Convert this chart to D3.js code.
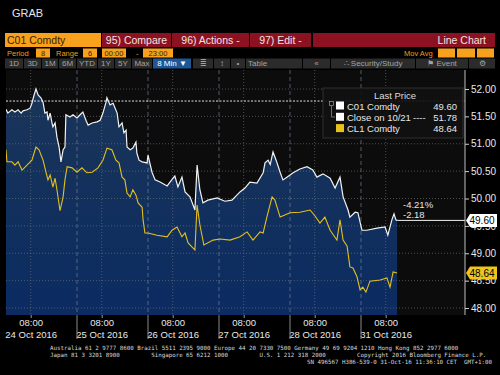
<!DOCTYPE html>
<html>
<head>
<meta charset="utf-8">
<script src="https://cdn.jsdelivr.net/npm/d3@7"></script>
<style>
  body { margin: 0; background: #000; }
  svg { display: block; font-family: "Liberation Sans", Arial, sans-serif; }
</style>
</head>
<body>
<div id="viz"></div>
<script>
// sessions shown on the x axis (each session 00:00 - 23:00)
var days = ["24 Oct 2016", "25 Oct 2016", "26 Oct 2016", "27 Oct 2016", "28 Oct 2016", "31 Oct 2016"];
var yTicks = [48, 48.5, 49, 49.5, 50, 50.5, 51, 51.5, 52];

// [session hour from 24 Oct 00:00, price]
var brent = [[0,51.63],[0.6,51.56],[1.9,51.62],[2.9,51.58],[3.9,51.62],[4.9,51.56],[5.5,51.60],[6.8,51.62],[7.8,51.65],[8.4,51.74],
  [9.1,51.89],[9.7,52.00],[10.4,51.89],[11.3,51.84],[12,51.76],[12.6,51.56],[13.3,51.58],[13.6,51.43],[14.3,51.56],[14.9,51.38],
  [15.2,51.31],[15.9,51.38],[16.5,51.12],[17.2,50.94],[17.8,50.67],[18.5,50.89],[19.1,50.94],[19.4,51.53],[20.7,51.49],[21.7,51.53],
  [23,51.47],[24,51.53],[24.9,51.58],[25.9,51.43],[26.6,51.34],[27.9,51.38],[29.5,51.40],[30.5,51.43],[31.4,51.56],[32.4,51.76],
  [32.7,51.84],[33.7,51.71],[34.7,51.74],[36,51.56],[36.6,51.31],[37.6,51.38],[38.2,51.20],[38.9,51.25],[39.2,50.94],[40.2,50.89],
  [41.1,50.92],[42.1,51.03],[42.4,50.83],[43.1,50.70],[44.1,50.67],[45.7,50.65],[46,50.79],[47.3,50.48],[48.3,50.34],[49.9,50.30],
  [52.2,50.23],[54.1,50.37],[54.7,50.41],[55.7,50.21],[57,50.39],[58,50.12],[59.6,50.03],[61.2,49.79],[61.9,50.61],[62.8,50.16],
  [63.8,49.92],[65.4,49.97],[68.4,50.01],[70.9,49.95],[73.2,49.97],[75.8,50.12],[77.4,50.19],[79,50.30],[81.3,50.28],[83.3,50.47],
  [83.9,50.65],[84.9,50.70],[85.6,50.62],[86.5,50.85],[87.5,50.70],[88.8,50.48],[89.7,50.34],[91,50.39],[93,50.47],[95.2,50.54],
  [97.5,50.58],[99.4,50.52],[100.7,50.39],[102.7,50.45],[105,50.37],[106.6,50.19],[108.2,50.39],[109.2,50.03],[110.8,49.79],[111.4,49.66],
  [113.1,49.75],[114,49.74],[115.3,49.42],[116.9,49.42],[120.2,49.46],[122.8,49.48],[123.7,49.33],[125,49.61],[125.7,49.72],[126.3,49.61],
  [126.7,49.60]];

var wti = [[0,50.89],[0.3,50.67],[1.9,50.67],[2.9,50.61],[3.9,50.67],[5.2,50.52],[6.8,50.61],[8.4,50.70],[9.7,50.94],[10.7,50.89],
  [12,50.70],[13,50.47],[13.6,50.34],[14.3,50.43],[15.2,50.21],[15.9,50.37],[16.5,50.16],[17.5,49.78],[18.5,50.03],[19.1,50.34],
  [19.8,50.58],[21.4,50.56],[23,50.48],[24.6,50.56],[26.2,50.47],[27.9,50.48],[29.8,50.56],[31.4,50.70],[32.7,50.92],[34.3,50.89],
  [35.6,50.70],[36.6,50.65],[37.6,50.39],[38.5,50.34],[39.2,50.10],[40.2,50.03],[41.1,50.16],[42.1,50.06],[42.8,49.92],[44.1,49.84],
  [44.4,49.61],[45,49.37],[46,49.37],[48.9,49.33],[52.2,49.30],[53.8,49.42],[55.4,49.48],[57,49.30],[58,49.37],[59,49.19],
  [60.3,49.11],[61.2,49.06],[61.9,49.88],[62.8,49.52],[64.1,49.15],[67.1,49.24],[69.3,49.26],[72.6,49.24],[75.8,49.30],[78.1,49.39],
  [80,49.24],[82.3,49.39],[83.3,49.37],[84.5,49.66],[86.2,50.03],[87.1,49.97],[88.8,49.66],[92,49.74],[95.2,49.75],[98.5,49.79],
  [100.1,49.68],[101.7,49.55],[103.3,49.66],[105,49.42],[107.2,49.24],[108.2,49.61],[109.2,49.24],[110.5,49.13],[111.4,48.75],[112.4,48.73],
  [113.7,48.57],[114.7,48.33],[115.6,48.38],[116.6,48.29],[117.9,48.49],[121.2,48.51],[123.4,48.55],[124.4,48.38],[125.4,48.66],[126.7,48.64]];

var prevClose = 51.78;
var lastBrent = 49.60, lastWti = 48.64;
var chgPct = "-4.21%", chgAbs = "-2.18";
var legendRows = [
  {name: "C01 Comdty", value: "49.60", color: "#ffffff"},
  {name: "Close on 10/21", value: "51.78", color: "#ffffff"},
  {name: "CL1 Comdty", value: "48.64", color: "#e8c21c"}
];
var footer = [
  "Australia 61 2 9777 8600 Brazil 5511 2395 9000 Europe 44 20 7330 7500 Germany 49 69 9204 1210 Hong Kong 852 2977 6000",
  "Japan 81 3 3201 8900         Singapore 65 6212 1000         U.S. 1 212 318 2000         Copyright 2016 Bloomberg Finance L.P.",
  "SN 496567 H386-539-0 31-Oct-16 11:36:10 CET  GMT+1:00"
];

var width = 500, height = 375,
    plot = {left: 6, right: 465, top: 70, bottom: 315},
    sessionHrs = 23, dayPx = 71;

var svg = d3.select('#viz').append('svg')
  .attr('width', width)
  .attr('height', height);

svg.append('rect').attr('width', width).attr('height', height).attr('fill', '#000');

var x = d3.scaleLinear().domain([0, (plot.right - plot.left) / dayPx * sessionHrs]).range([plot.left, plot.right]);
var y = d3.scaleLinear().domain([48, 52]).range([308, 89]);

// ---- header ----
svg.append('text').attr('x', 12).attr('y', 17).attr('fill', '#e6e6e6')
  .style('font-size', '11px').text('GRAB');

var row1 = [
  {x0: 5, x1: 101, label: 'C01 Comdty', fill: '#f7a11c', color: '#3a1e00', anchor: 'start'},
  {x0: 102, x1: 171, label: '95) Compare', fill: '#8c1222', color: '#f2e2e2', anchor: 'middle'},
  {x0: 172, x1: 249, label: '96) Actions -', fill: '#8c1222', color: '#f2e2e2', anchor: 'middle'},
  {x0: 250, x1: 311, label: '97) Edit  -', fill: '#8c1222', color: '#f2e2e2', anchor: 'middle'},
  {x0: 313, x1: 495, label: 'Line Chart', fill: '#8c1222', color: '#f2e2e2', anchor: 'end'}
];
var r1 = svg.selectAll('.r1').data(row1).enter().append('g').attr('class', 'r1');
r1.append('rect').attr('x', d => d.x0).attr('y', 33).attr('width', d => d.x1 - d.x0).attr('height', 14).attr('fill', d => d.fill);
r1.append('text')
  .attr('x', d => d.anchor == 'start' ? d.x0 + 2 : d.anchor == 'end' ? d.x1 - 9 : (d.x0 + d.x1) / 2)
  .attr('y', 44).attr('text-anchor', d => d.anchor).attr('fill', d => d.color)
  .style('font-size', '10.5px').text(d => d.label);

// period / range row
var orange = '#f29b1e';
var row2Labels = [{x: 7, t: 'Period'}, {x: 56, t: 'Range'}, {x: 136, t: '-'}, {x: 404, t: 'Mov Avg'}];
svg.selectAll('.r2l').data(row2Labels).enter().append('text')
  .attr('x', d => d.x).attr('y', 55.5).attr('fill', orange).style('font-size', '7.5px').text(d => d.t);
var row2Boxes = [{x0: 36, x1: 50, t: '8'}, {x0: 83, x1: 97, t: '6'}, {x0: 102, x1: 126, t: '00:00'},
  {x0: 143, x1: 173, t: '23:00'}, {x0: 438, x1: 455, t: ''}, {x0: 457, x1: 475, t: ''}, {x0: 477, x1: 494, t: ''}];
var r2 = svg.selectAll('.r2').data(row2Boxes).enter().append('g');
r2.append('rect').attr('x', d => d.x0).attr('y', 48.5).attr('width', d => d.x1 - d.x0).attr('height', 9).attr('fill', '#f7a11c');
r2.append('text').attr('x', d => (d.x0 + d.x1) / 2).attr('y', 55.8).attr('text-anchor', 'middle')
  .attr('fill', '#3a1e00').style('font-size', '7.5px').text(d => d.t);

// toolbar row
var row3 = [
  {x0: 5, x1: 23, t: '1D'}, {x0: 24, x1: 41, t: '3D'}, {x0: 42, x1: 58, t: '1M'}, {x0: 59, x1: 76, t: '6M'},
  {x0: 77, x1: 97, t: 'YTD'}, {x0: 98, x1: 114, t: '1Y'}, {x0: 115, x1: 131, t: '5Y'}, {x0: 132, x1: 152, t: 'Max'},
  {x0: 153, x1: 191, t: '8 Min \u25BC', blue: true}, {x0: 193, x1: 213, t: '\u2263', icon: true},
  {x0: 214, x1: 230, t: '\u2195'}, {x0: 231, x1: 245, t: '\u2022'}, {x0: 246, x1: 302, t: 'Table', left: true},
  {x0: 303, x1: 330, t: '\u00AB'}, {x0: 331, x1: 415, t: '\u2234 Security/Study'}, {x0: 416, x1: 468, t: '\u2691 Event'},
  {x0: 469, x1: 495, t: '\u2699'}
];
var r3 = svg.selectAll('.r3').data(row3).enter().append('g');
r3.append('rect').attr('x', d => d.x0).attr('y', 58.5).attr('width', d => d.x1 - d.x0).attr('height', 10)
  .attr('fill', d => d.blue ? '#1f5795' : '#2b2b2b');
r3.append('text').attr('x', d => d.left ? d.x0 + 2 : (d.x0 + d.x1) / 2).attr('y', 66.3)
  .attr('text-anchor', d => d.left ? 'start' : 'middle')
  .attr('fill', d => d.blue ? '#ffffff' : d.icon ? '#7fa8d8' : '#a3a3a3')
  .style('font-size', '8px').text(d => d.t);

// ---- plot ----
var defs = svg.append('defs');
var grad = defs.append('linearGradient').attr('id', 'areaFill')
  .attr('gradientUnits', 'userSpaceOnUse').attr('x1', 0).attr('y1', y(52)).attr('x2', 0).attr('y2', plot.bottom);
grad.append('stop').attr('offset', '0%').attr('stop-color', '#1a3558');
grad.append('stop').attr('offset', '100%').attr('stop-color', '#0b2b62');
defs.append('clipPath').attr('id', 'clip').append('rect')
  .attr('x', plot.left).attr('y', plot.top).attr('width', plot.right - plot.left).attr('height', plot.bottom - plot.top);

svg.append('rect').attr('x', plot.left).attr('y', plot.top)
  .attr('width', plot.right - plot.left).attr('height', plot.bottom - plot.top).attr('fill', '#0c0c0c');

var g = svg.append('g').attr('clip-path', 'url(#clip)');

g.append('path').datum(brent)
  .attr('fill', 'url(#areaFill)')
  .attr('d', d3.area().x(d => x(d[0])).y0(plot.bottom).y1(d => y(d[1])));

// grid
g.selectAll('.hgrid').data(yTicks).enter().append('line')
  .attr('x1', plot.left).attr('x2', plot.right).attr('y1', d => y(d)).attr('y2', d => y(d))
  .attr('stroke', '#7a7a7a').attr('stroke-opacity', 0.6).attr('stroke-dasharray', '1,2');
g.selectAll('.vgrid').data(days).enter().append('line')
  .attr('x1', (d, i) => x(i * sessionHrs + 8)).attr('x2', (d, i) => x(i * sessionHrs + 8))
  .attr('y1', plot.top).attr('y2', plot.bottom)
  .attr('stroke', '#7a7a7a').attr('stroke-opacity', 0.6).attr('stroke-dasharray', '1,2');
g.selectAll('.dgrid').data(days.slice(1)).enter().append('line')
  .attr('x1', (d, i) => x((i + 1) * sessionHrs)).attr('x2', (d, i) => x((i + 1) * sessionHrs))
  .attr('y1', plot.top).attr('y2', plot.bottom)
  .attr('stroke', '#6f7f95').attr('stroke-opacity', 0.7).attr('stroke-dasharray', '4,3');

// previous close
g.append('line').attr('x1', plot.left).attr('x2', plot.right)
  .attr('y1', y(prevClose)).attr('y2', y(prevClose))
  .attr('stroke', '#e0e0e0').attr('stroke-dasharray', '2,1.5');

var line = d3.line().x(d => x(d[0])).y(d => y(d[1]));
g.append('path').datum(wti).attr('fill', 'none').attr('stroke', '#e3c01c').attr('stroke-width', 1.1).attr('d', line);
g.append('path').datum(brent).attr('fill', 'none').attr('stroke', '#f2f2f2').attr('stroke-width', 1.2).attr('d', line);

// last price line and change
var lastT = brent[brent.length - 1][0];
svg.append('line').attr('x1', x(lastT)).attr('x2', plot.right)
  .attr('y1', y(lastBrent)).attr('y2', y(lastBrent)).attr('stroke', '#f2f2f2');
svg.append('text').attr('x', 403).attr('y', y(lastBrent) - 12).attr('fill', '#e6e6e6')
  .style('font-size', '9.5px').text(chgPct);
svg.append('text').attr('x', 403).attr('y', y(lastBrent) - 2).attr('fill', '#e6e6e6')
  .style('font-size', '9.5px').text(chgAbs);

// y axis
svg.append('line').attr('x1', plot.right).attr('x2', plot.right).attr('y1', plot.top).attr('y2', plot.bottom)
  .attr('stroke', '#bdbdbd');
var yAxis = svg.append('g').attr('transform', `translate(${plot.right},0)`)
  .call(d3.axisRight(y).tickValues(yTicks).tickFormat(d3.format('.2f')).tickSize(4).tickPadding(2));
yAxis.select('.domain').remove();
yAxis.selectAll('line').attr('stroke', '#d0d0d0');
yAxis.selectAll('text').attr('fill', '#e8e8e8').style('font-size', '10px')
  .style('font-family', '"Liberation Sans", Arial, sans-serif');

// price tags (drawn over the tick labels they sit on, as in the terminal)
var tags = [{v: lastBrent, fill: '#ffffff'}, {v: lastWti, fill: '#efc51d'}];
var tg = svg.selectAll('.tag').data(tags).enter().append('g');
tg.append('path').attr('fill', d => d.fill)
  .attr('d', d => { var c = y(d.v); return `M${plot.right + 1},${c} L${plot.right + 5},${c - 6.5} L497,${c - 6.5} L497,${c + 6.5} L${plot.right + 5},${c + 6.5} Z`; });
tg.append('text').attr('x', 482).attr('y', d => y(d.v) + 3.8).attr('text-anchor', 'middle')
  .attr('fill', '#000').style('font-size', '10px').text(d => d3.format('.2f')(d.v));

// x axis
var xAxis = svg.append('g').attr('transform', `translate(0,${plot.bottom})`)
  .call(d3.axisBottom(x).tickValues(days.map((d, i) => i * sessionHrs + 8)).tickFormat(() => '08:00').tickSize(3).tickPadding(1));
xAxis.select('.domain').remove();
xAxis.selectAll('line').attr('stroke', '#9a9a9a');
xAxis.selectAll('text').attr('fill', '#e8e8e8').style('font-size', '9.5px')
  .style('font-family', '"Liberation Sans", Arial, sans-serif')
  .each(function(d, i) {
    d3.select(this).append('tspan').attr('x', 0).attr('dy', '1.25em').text(days[i]);
  });
svg.selectAll('.dsep').data(days.slice(1)).enter().append('line')
  .attr('x1', (d, i) => x((i + 1) * sessionHrs)).attr('x2', (d, i) => x((i + 1) * sessionHrs))
  .attr('y1', plot.bottom).attr('y2', plot.bottom + 24).attr('stroke', '#8a8a8a');

// legend
var lg = svg.append('g');
lg.append('rect').attr('x', 323).attr('y', 88).attr('width', 140).attr('height', 50)
  .attr('fill', '#111').attr('fill-opacity', 0.92).attr('stroke', '#2e2e2e');
lg.append('text').attr('x', 395).attr('y', 99).attr('text-anchor', 'middle').attr('fill', '#dcdcdc')
  .style('font-size', '9.5px').text('Last Price');
lg.append('rect').attr('x', 329.5).attr('y', 101.5).attr('width', 4).attr('height', 4)
  .attr('fill', 'none').attr('stroke', '#999').attr('stroke-width', 0.7);
lg.append('path').attr('d', 'M331.5,106 V117 H335').attr('fill', 'none').attr('stroke', '#999').attr('stroke-width', 0.7);
var lr = lg.selectAll('.lr').data(legendRows).enter().append('g')
  .attr('transform', (d, i) => `translate(0,${106 + i * 11.3})`);
lr.append('rect').attr('x', 336).attr('y', -4.5).attr('width', 8).attr('height', 8).attr('fill', d => d.color);
lr.append('text').attr('x', 347).attr('y', 3.5).attr('fill', '#e6e6e6').style('font-size', '9.5px').text(d => d.name);
lr.append('text').attr('x', 457).attr('y', 3.5).attr('text-anchor', 'end').attr('fill', '#e6e6e6')
  .style('font-size', '9.5px').text(d => d.value);
lg.append('text').attr('x', 413).attr('y', 106 + 11.3 + 3.5).attr('fill', '#e6e6e6')
  .style('font-size', '9.5px').text('----');

// footer
svg.selectAll('.foot').data(footer).enter().append('text')
  .attr('x', (d, i) => i == 2 ? 307 : 50).attr('y', (d, i) => 350 + i * 7)
  .attr('fill', '#d8d8d8').attr('xml:space', 'preserve')
  .style('font-family', '"DejaVu Sans Mono", monospace').style('font-size', '5.8px')
  .style('white-space', 'pre').text(d => d);
</script>
</body>
</html>
